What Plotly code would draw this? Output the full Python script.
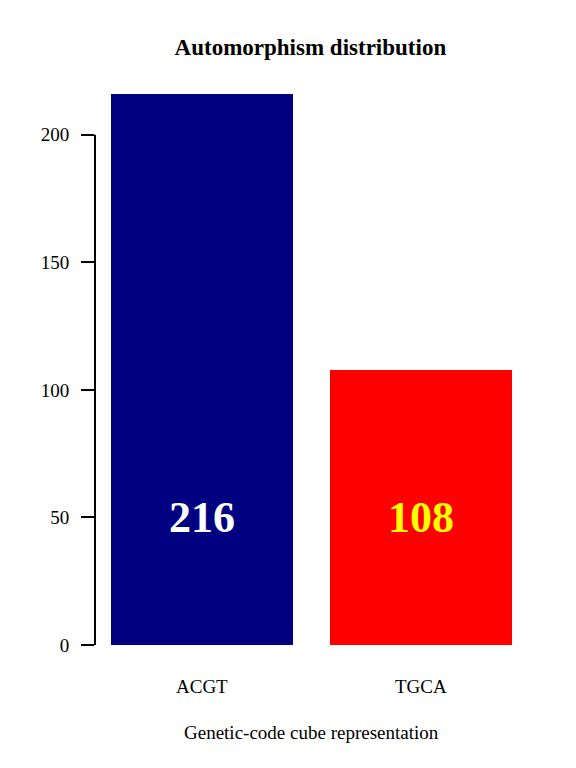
import plotly.graph_objects as go

categories = ["ACGT", "TGCA"]
values = [216, 108]
bar_colors = ["#000080", "#FF0000"]
label_colors = ["white", "yellow"]
y_ticks = [0, 50, 100, 150, 200]
title = "Automorphism distribution"
x_title = "Genetic-code cube representation"

# R barplot positions: width 1, space 0.2
x_pos = [0.2 + 1.2 * i + 0.5 for i in range(len(values))]
x_lo = 0.2 - 0.04 * (1.2 * len(values) - 0.2)
x_hi = 1.2 * len(values) + 0.04 * (1.2 * len(values) - 0.2)

FONT = "Liberation Serif, Times New Roman, serif"

fig = go.Figure()
fig.add_trace(go.Bar(
    x=x_pos, y=values, width=1.0,
    marker=dict(color=bar_colors, line=dict(width=0)),
    hoverinfo="skip",
))

ann = []
for xp, v, c, lc in zip(x_pos, values, categories, label_colors):
    ann.append(dict(x=xp, y=50, xref="x", yref="y", text=f"<b>{v}</b>",
                    showarrow=False, font=dict(family=FONT, size=44, color=lc),
                    xanchor="center", yanchor="middle"))
    ann.append(dict(x=xp, y=0, xref="x", yref="y", text=c, showarrow=False,
                    font=dict(family=FONT, size=19, color="black"),
                    xanchor="center", yanchor="middle", yshift=-41))
ann.append(dict(x=0.5, y=0, xref="paper", yref="y", text=x_title, showarrow=False,
                font=dict(family=FONT, size=19, color="black"),
                xanchor="center", yanchor="middle", yshift=-87))

fig.update_layout(
    width=576, height=768,
    margin=dict(l=87, r=56, t=86, b=131),
    paper_bgcolor="white", plot_bgcolor="white",
    showlegend=False,
    title=dict(text=f"<b>{title}</b>", x=0.525, xanchor="center",
               y=1 - 39 / 768, yanchor="middle", yref="container",
               font=dict(family=FONT, size=23, color="black")),
    xaxis=dict(range=[x_lo, x_hi], showticklabels=False, ticks="", showgrid=False,
               zeroline=False, showline=False, fixedrange=True),
    yaxis=dict(range=[0, values[0]], tickvals=y_ticks, ticktext=[str(t) for t in y_ticks],
               ticks="outside", ticklen=13, tickwidth=2, tickcolor="black",
               showgrid=False, zeroline=False, showline=False,
               tickfont=dict(family=FONT, size=19, color="black"),
               ticklabelstandoff=8),
    annotations=ann,
    shapes=[dict(type="line", xref="paper", yref="y", x0=0, x1=0,
                 y0=y_ticks[0], y1=y_ticks[-1], line=dict(color="black", width=2))],
    bargap=0,
)

fig.write_html("out.html")
